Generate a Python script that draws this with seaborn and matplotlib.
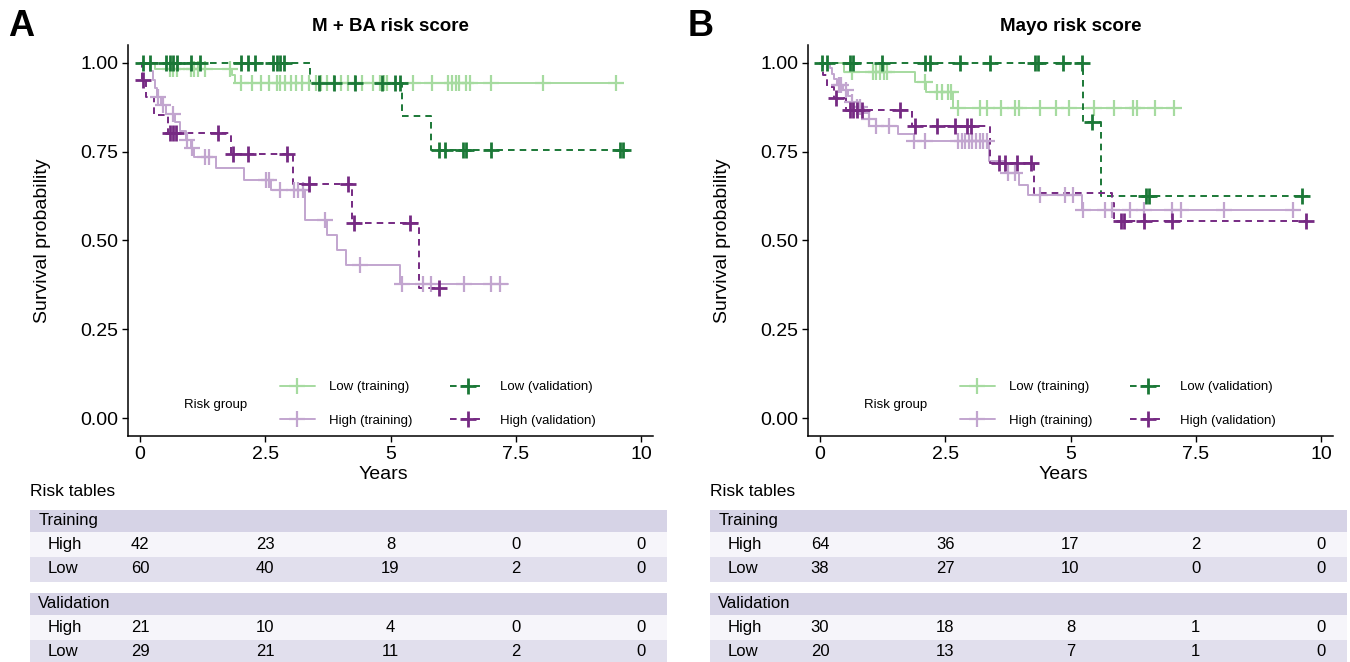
import numpy as np
import pandas as pd
import matplotlib
matplotlib.use("Agg")
import matplotlib.pyplot as plt
import seaborn as sns
from matplotlib.lines import Line2D

sns.set_style("ticks")
plt.rcParams['font.family'] = ['Liberation Sans', 'DejaVu Sans']
plt.rcParams['text.color'] = 'black'
plt.rcParams['axes.labelcolor'] = 'black'
plt.rcParams['xtick.color'] = 'black'
plt.rcParams['ytick.color'] = 'black'

# PRGn colours
LIGHT_GREEN = '#a6dba0'
DARK_GREEN = '#1b7837'
LIGHT_PURPLE = '#c2a5cf'
DARK_PURPLE = '#762a83'

# ---- Panel A: M + BA risk score (step times, survival, censor times, end of follow-up)
a_low_train_t = [0, 0.30, 1.83, 1.90]
a_low_train_s = [1.0, 0.983, 0.967, 0.944]
a_low_train_cens = [0.59, 0.66, 0.73, 1.01, 1.08, 1.15, 1.30, 1.80, 2.01, 2.23, 2.41, 2.58, 2.73,
                    2.80, 2.90, 3.01, 3.12, 3.23, 3.37, 3.51, 3.62, 3.73, 3.87, 4.01, 4.15, 4.30,
                    4.44, 4.65, 4.80, 4.87, 4.94, 5.44, 5.83, 6.15, 6.22, 6.30, 6.37, 6.51, 6.58,
                    7.01, 8.04, 9.50]
a_low_train_end = 9.60

a_high_train_t = [0, 0.20, 0.25, 0.30, 0.34, 0.41, 0.51, 0.69, 0.80, 0.91, 1.01, 1.08, 1.51,
                  2.08, 2.62, 3.30, 3.73, 3.94, 4.12, 5.19]
a_high_train_s = [1.0, 0.976, 0.952, 0.929, 0.905, 0.881, 0.857, 0.833, 0.807, 0.783, 0.759,
                  0.735, 0.704, 0.671, 0.641, 0.558, 0.516, 0.474, 0.431, 0.377]
a_high_train_cens = [0.36, 0.45, 0.66, 0.94, 1.04, 1.30, 1.37, 2.51, 2.58, 2.80, 3.08, 3.15, 3.26,
                     3.69, 4.40, 5.22, 5.65, 5.80, 6.47, 7.01, 7.19]
a_high_train_end = 7.35

a_low_val_t = [0, 3.40, 5.22, 5.80]
a_low_val_s = [1.0, 0.944, 0.850, 0.756]
a_low_val_cens = [0.05, 0.19, 0.51, 0.59, 0.66, 0.73, 1.01, 1.19, 2.01, 2.16, 2.30, 2.66, 2.73,
                  2.80, 2.87, 3.58, 3.87, 4.30, 4.83, 5.08, 5.19, 5.97, 6.08, 6.44, 6.51, 7.01,
                  9.58, 9.65]
a_low_val_end = 9.70

a_high_val_t = [0, 0.03, 0.12, 0.28, 0.55, 1.81, 3.05, 4.24, 5.57]
a_high_val_s = [1.0, 0.952, 0.905, 0.852, 0.803, 0.742, 0.659, 0.549, 0.366]
a_high_val_cens = [0.06, 0.60, 0.66, 0.72, 1.55, 1.86, 2.16, 2.94, 3.37, 4.15, 4.28, 5.39, 5.97]
a_high_val_end = 5.97

# ---- Panel B: Mayo risk score
b_low_train_t = [0, 0.48, 1.89, 2.12, 2.65]
b_low_train_s = [1.0, 0.974, 0.947, 0.918, 0.874]
b_low_train_cens = [0.63, 1.05, 1.12, 1.20, 1.27, 1.34, 2.09, 2.33, 2.44, 2.55, 2.62, 2.76, 3.19,
                    3.33, 3.62, 3.90, 3.97, 4.40, 4.72, 4.97, 5.47, 5.86, 6.25, 6.32, 6.68, 7.07]
b_low_train_end = 7.20

b_high_train_t = [0, 0.20, 0.24, 0.27, 0.34, 0.45, 0.56, 0.63, 0.73, 0.88, 0.98, 1.12, 1.55,
                  1.87, 3.37, 3.69, 3.97, 4.15, 5.22]
b_high_train_s = [1.0, 0.984, 0.969, 0.953, 0.938, 0.922, 0.906, 0.891, 0.875, 0.859, 0.841,
                  0.822, 0.800, 0.779, 0.723, 0.690, 0.657, 0.627, 0.585]
b_high_train_cens = [0.38, 0.41, 0.52, 0.63, 0.73, 0.80, 0.98, 1.12, 1.37, 1.87, 2.09, 2.76, 2.83,
                     2.90, 2.97, 3.04, 3.12, 3.19, 3.26, 3.33, 3.76, 3.90, 4.40, 4.90, 5.04, 5.25,
                     5.68, 5.82, 6.18, 6.46, 7.03, 7.21, 8.06, 9.45]
b_high_train_end = 9.59

b_low_val_t = [0, 5.25, 5.61]
b_low_val_s = [1.0, 0.833, 0.625]
b_low_val_cens = [0.04, 0.13, 0.59, 0.66, 1.23, 2.09, 2.19, 2.80, 3.40, 4.29, 4.36, 4.86, 5.22,
                  5.43, 6.50, 6.57, 9.63]
b_low_val_end = 9.74

b_high_val_t = [0, 0.06, 0.13, 0.27, 0.52, 1.84, 3.40, 4.27, 5.82, 5.86]
b_high_val_s = [1.0, 0.967, 0.933, 0.900, 0.867, 0.823, 0.718, 0.635, 0.605, 0.556]
b_high_val_cens = [0.31, 0.59, 0.66, 0.73, 0.84, 1.59, 1.89, 2.33, 2.69, 2.94, 3.01, 3.58, 3.69,
                   3.94, 4.22, 6.00, 6.07, 6.46, 7.03, 9.70]
b_high_val_end = 9.70

# ---- risk tables (numbers at risk at 0, 2.5, 5, 7.5, 10 years)
risk_times = [0, 2.5, 5, 7.5, 10]
a_train_high = [42, 23, 8, 0, 0]
a_train_low = [60, 40, 19, 2, 0]
a_val_high = [21, 10, 4, 0, 0]
a_val_low = [29, 21, 11, 2, 0]
b_train_high = [64, 36, 17, 2, 0]
b_train_low = [38, 27, 10, 0, 0]
b_val_high = [30, 18, 8, 1, 0]
b_val_low = [20, 13, 7, 1, 0]

legend_labels = ['Low (training)', 'High (training)', 'Low (validation)', 'High (validation)']
styles = {
    'Low (training)': (LIGHT_GREEN, '-', 1.6),
    'High (training)': (LIGHT_PURPLE, '-', 1.6),
    'Low (validation)': (DARK_GREEN, (0, (3.4, 2.6)), 2.0),
    'High (validation)': (DARK_PURPLE, (0, (3.4, 2.6)), 2.0),
}

W, H = 1350, 662


def km_frame(t, s, end):
    x = list(t) + [end]
    y = list(s) + [s[-1]]
    return pd.DataFrame({'Years': x, 'Survival': y})


def cens_frame(t, s, cens):
    t = np.asarray(t)
    s = np.asarray(s)
    idx = np.searchsorted(t, cens, side='right') - 1
    return pd.DataFrame({'Years': cens, 'Survival': s[idx]})


def draw_km(ax, series, title):
    for label, (t, s, cens, end) in series.items():
        color, ls, mew = styles[label]
        sns.lineplot(data=km_frame(t, s, end), x='Years', y='Survival', ax=ax, color=color,
                     linewidth=1.4, linestyle=ls, drawstyle='steps-post', estimator=None,
                     sort=False, zorder=2)
        sns.scatterplot(data=cens_frame(t, s, cens), x='Years', y='Survival', ax=ax,
                        color=color, marker='+', s=140, linewidth=mew, zorder=3, legend=False)
    ax.set_xlim(-0.24, 10.24)
    ax.set_ylim(-0.05, 1.05)
    ax.set_xticks(risk_times)
    ax.set_xticklabels(['0', '2.5', '5', '7.5', '10'])
    ax.set_yticks([0, 0.25, 0.5, 0.75, 1.0])
    ax.set_yticklabels(['0.00', '0.25', '0.50', '0.75', '1.00'])
    ax.tick_params(labelsize=14, length=4, width=1, color='black', pad=3)
    for sp in ['left', 'bottom']:
        ax.spines[sp].set_linewidth(1.1)
        ax.spines[sp].set_color('black')
    sns.despine(ax=ax)
    ax.set_xlabel('Years', fontsize=14)
    ax.set_ylabel('Survival probability', fontsize=14)
    ax.xaxis.set_label_coords(0.487, -0.077)
    ax.yaxis.set_label_coords(-0.146, 0.5)
    ax.set_title(title, fontsize=13.5, fontweight='bold', pad=10)

    handles = []
    for label in legend_labels:
        color, ls, mew = styles[label]
        handles.append(Line2D([], [], color=color, linestyle=ls, linewidth=1.4, marker='+',
                              markersize=12, markeredgewidth=mew))
    ax.legend(handles, legend_labels, ncol=2, loc='upper left', bbox_to_anchor=(0.2895, 0.140),
              frameon=False, fontsize=9.5, handlelength=2.65, handletextpad=1.1,
              columnspacing=2.85, labelspacing=1.6, borderpad=0, borderaxespad=0)
    ax.text(0.107, 0.080, 'Risk group', transform=ax.transAxes, fontsize=9.5, va='center')


def draw_table(fig, left_px, train_high, train_low, val_high, val_low):
    tax = fig.add_axes([left_px / W, 0, 637 / W, 157 / H])
    tax.set_xlim(-2.196, 10.52)
    tax.set_ylim(662, 505)
    tax.axis('off')
    fig.text(left_px / W, 1 - 492 / H, 'Risk tables', fontsize=12.5, va='center')
    blocks = [('Training', 510, train_high, train_low), ('Validation', 593, val_high, val_low)]
    for name, top, high, low in blocks:
        tax.axhspan(top, top + 22, color='#d6d3e6', lw=0)
        tax.axhspan(top + 22, top + 47, color='#f6f5fa', lw=0)
        tax.axhspan(top + 47, top + 72, color='#e1dfed', lw=0)
        tax.text(0.013, top + 11, name, transform=tax.get_yaxis_transform(), fontsize=12,
                 va='center', ha='left')
        for row_name, vals, yc in [('High', high, top + 35), ('Low', low, top + 59)]:
            tax.text(0.027, yc, row_name, transform=tax.get_yaxis_transform(), fontsize=12,
                     va='center', ha='left')
            for xt, v in zip(risk_times, vals):
                tax.text(xt, yc, str(v), fontsize=12, va='center', ha='center')


fig = plt.figure(figsize=(W / 100, H / 100), dpi=100)
ax_a = fig.add_axes([128 / W, 1 - 436 / H, 525 / W, 391 / H])
ax_b = fig.add_axes([808 / W, 1 - 436 / H, 525 / W, 391 / H])

series_a = {
    'Low (training)': (a_low_train_t, a_low_train_s, a_low_train_cens, a_low_train_end),
    'High (training)': (a_high_train_t, a_high_train_s, a_high_train_cens, a_high_train_end),
    'Low (validation)': (a_low_val_t, a_low_val_s, a_low_val_cens, a_low_val_end),
    'High (validation)': (a_high_val_t, a_high_val_s, a_high_val_cens, a_high_val_end),
}
series_b = {
    'Low (training)': (b_low_train_t, b_low_train_s, b_low_train_cens, b_low_train_end),
    'High (training)': (b_high_train_t, b_high_train_s, b_high_train_cens, b_high_train_end),
    'Low (validation)': (b_low_val_t, b_low_val_s, b_low_val_cens, b_low_val_end),
    'High (validation)': (b_high_val_t, b_high_val_s, b_high_val_cens, b_high_val_end),
}

draw_km(ax_a, series_a, 'M + BA risk score')
draw_km(ax_b, series_b, 'Mayo risk score')

draw_table(fig, 30, a_train_high, a_train_low, a_val_high, a_val_low)
draw_table(fig, 710, b_train_high, b_train_low, b_val_high, b_val_low)

fig.text(8 / W, 1 - 26 / H, 'A', fontsize=26, fontweight='bold', va='center', ha='left')
fig.text(688 / W, 1 - 26 / H, 'B', fontsize=26, fontweight='bold', va='center', ha='left')

fig.savefig('out.png', dpi=100)
